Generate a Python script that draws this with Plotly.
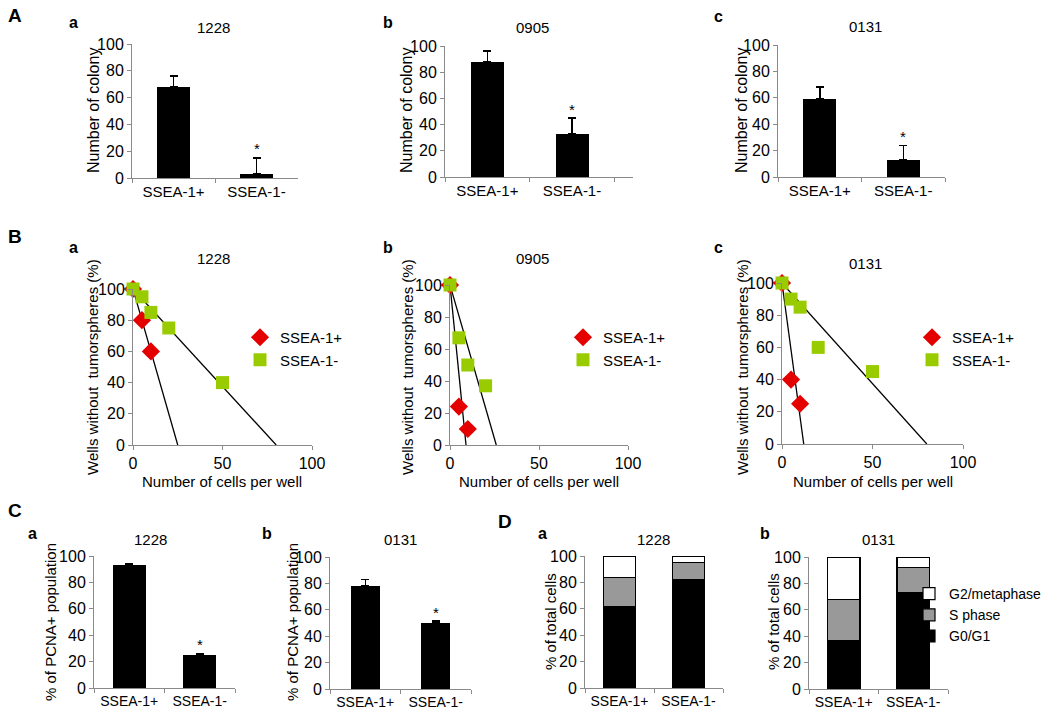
import plotly.graph_objects as go

W, H = 1050, 712
OFF = 0
FONT = "Liberation Sans, Arial, sans-serif"
AXC = "#8a8a8a"

# ---------------- data ----------------
categories = ["SSEA-1+", "SSEA-1-"]

colony_1228 = [68, 3]
colony_1228_err = [8, 12]
colony_0905 = [88, 33]
colony_0905_err = [8, 12]
colony_0131 = [59, 13]
colony_0131_err = [9, 11]

# Panel B: limiting dilution (cells per well vs % wells without tumorspheres)
b1228_pos_x = [0, 5, 10]
b1228_pos_y = [100, 80, 60]
b1228_neg_x = [0, 5, 10, 20, 50]
b1228_neg_y = [100, 95, 85, 75, 40]
b1228_pos_fit_x = [0, 25]
b1228_neg_fit_x = [0, 80]

b0905_pos_x = [0, 5, 10]
b0905_pos_y = [100, 24, 10]
b0905_neg_x = [0, 5, 10, 20]
b0905_neg_y = [100, 67, 50, 37]
b0905_pos_fit_x = [0, 9]
b0905_neg_fit_x = [0, 26]

b0131_pos_x = [0, 5, 10]
b0131_pos_y = [100, 40, 25]
b0131_neg_x = [0, 5, 10, 20, 50]
b0131_neg_y = [100, 90, 85, 60, 45]
b0131_pos_fit_x = [0, 12]
b0131_neg_fit_x = [0, 80]
fit_y = [100, 0]

# Panel C: PCNA+
pcna_1228 = [93, 25]
pcna_1228_err = [1, 1]
pcna_0131 = [78, 50]
pcna_0131_err = [5, 1.5]

# Panel D: cell cycle
d1228_g0g1 = [62, 82]
d1228_s = [22, 13]
d1228_g2 = [16, 5]
d0131_g0g1 = [37, 73]
d0131_s = [31, 19]
d0131_g2 = [32, 8]

# ---------------- layout helpers ----------------
def fx(x):
    return (x - OFF) / W

def fy(y):
    return 1 - (y - OFF) / H

def xd(a, b):
    return [fx(a), fx(b)]

def yd(top, bot):
    return [fy(bot), fy(top)]

layout = dict(
    width=W, height=H, margin=dict(l=0, r=0, t=0, b=0, autoexpand=False),
    paper_bgcolor="white", plot_bgcolor="white",
    font=dict(family=FONT, color="black", size=15),
    barmode="stack", showlegend=True,
)

def axis_common(**kw):
    d = dict(showline=True, linecolor=AXC, linewidth=1, ticks="outside",
             ticklen=4, tickcolor=AXC, showgrid=False, zeroline=False,
             tickfont=dict(size=16, color="black", family=FONT), fixedrange=True,
             tickangle=0, automargin=False)
    d.update(kw)
    return d

fig = go.Figure()
annotations = []

def ann(text, x, y, size=15, bold=False, angle=0, xanchor="center", yanchor="middle"):
    annotations.append(dict(
        text=("<b>%s</b>" % text) if bold else text, x=fx(x), y=fy(y),
        xref="paper", yref="paper", showarrow=False, textangle=angle,
        xanchor=xanchor, yanchor=yanchor,
        font=dict(size=size, family=FONT, color="black")))

panels = {
    1: ([132, 298], [44, 178]),
    2: ([445, 633], [46, 177]),
    3: ([778, 945], [45, 177]),
    4: ([133, 312], [289, 445]),
    5: ([450, 628], [285, 445]),
    6: ([782, 963], [283, 444]),
    7: ([94, 235], [556, 688]),
    8: ([330, 471], [557, 689]),
    9: ([585, 723], [556, 688]),
    10: ([809, 948], [557, 689]),
}

def ax_names(i):
    return ("xaxis" if i == 1 else "xaxis%d" % i,
            "yaxis" if i == 1 else "yaxis%d" % i,
            "x" if i == 1 else "x%d" % i,
            "y" if i == 1 else "y%d" % i)

# ---------------- bar panels (A, C) ----------------
bar_sets = [
    (1, colony_1228, colony_1228_err, 0.40, [-0.5, 1.5], 15),
    (2, colony_0905, colony_0905_err, 0.39, [-0.5, 1.72], 15),
    (3, colony_0131, colony_0131_err, 0.40, [-0.5, 1.5], 15),
    (7, pcna_1228, pcna_1228_err, 0.47, [-0.5, 1.5], 14),
    (8, pcna_0131, pcna_0131_err, 0.41, [-0.5, 1.5], 14),
]
for i, vals, errs, bw, xr, cfs in bar_sets:
    xn, yn, xr_, yr_ = ax_names(i)
    fig.add_trace(go.Bar(
        x=categories, y=vals, width=[bw, bw], xaxis=xr_, yaxis=yr_,
        marker=dict(color="black", line=dict(width=0)), showlegend=False,
        error_y=dict(type="data", array=errs, arrayminus=[0, 0], symmetric=False,
                     color="black", thickness=1.5, width=4)))
    xp, yp = panels[i]
    layout[xn] = axis_common(domain=xd(*xp), anchor=yr_, type="category",
                             range=xr, tickson="boundaries",
                             tickfont=dict(size=cfs, color="black", family=FONT))
    layout[yn] = axis_common(domain=yd(*yp), anchor=xr_, range=[0, 100],
                             tickvals=[0, 20, 40, 60, 80, 100])
    annotations.append(dict(text="*", x=categories[1], y=vals[1] + errs[1],
                            xref=xr_, yref=yr_, showarrow=False, yshift=9,
                            font=dict(size=15, family=FONT, color="black")))

# ---------------- scatter panels (B) ----------------
RED = "#e50000"
GREEN = "#99cc00"
b_sets = [
    (4, b1228_pos_x, b1228_pos_y, b1228_neg_x, b1228_neg_y, b1228_pos_fit_x, b1228_neg_fit_x, "legend", 240),
    (5, b0905_pos_x, b0905_pos_y, b0905_neg_x, b0905_neg_y, b0905_pos_fit_x, b0905_neg_fit_x, "legend2", 563),
    (6, b0131_pos_x, b0131_pos_y, b0131_neg_x, b0131_neg_y, b0131_pos_fit_x, b0131_neg_fit_x, "legend3", 912),
]
for i, px_, py_, nx_, ny_, pfx, nfx, lg, lgx in b_sets:
    xn, yn, xr_, yr_ = ax_names(i)
    fig.add_trace(go.Scatter(x=pfx, y=fit_y, mode="lines", xaxis=xr_, yaxis=yr_,
                             line=dict(color="black", width=1.3), showlegend=False,
                             cliponaxis=False))
    fig.add_trace(go.Scatter(x=nfx, y=fit_y, mode="lines", xaxis=xr_, yaxis=yr_,
                             line=dict(color="black", width=1.3), showlegend=False,
                             cliponaxis=False))
    fig.add_trace(go.Scatter(x=px_, y=py_, mode="markers", name="SSEA-1+",
                             xaxis=xr_, yaxis=yr_, legend=lg, cliponaxis=False,
                             marker=dict(symbol="diamond", size=14, color=RED)))
    fig.add_trace(go.Scatter(x=nx_, y=ny_, mode="markers", name="SSEA-1-",
                             xaxis=xr_, yaxis=yr_, legend=lg, cliponaxis=False,
                             marker=dict(symbol="square", size=13, color=GREEN)))
    xp, yp = panels[i]
    layout[xn] = axis_common(domain=xd(*xp), anchor=yr_, range=[0, 100],
                             tickvals=[0, 50, 100])
    layout[yn] = axis_common(domain=yd(*yp), anchor=xr_, range=[0, 100],
                             tickvals=[0, 20, 40, 60, 80, 100])
    layout[lg] = dict(x=fx(lgx), y=fy(321), xanchor="left", yanchor="top",
                      bgcolor="rgba(0,0,0,0)", borderwidth=0, tracegroupgap=0,
                      traceorder="normal",
                      font=dict(size=15, family=FONT, color="black"),
                      itemwidth=30)

# ---------------- stacked panels (D) ----------------
d_sets = [
    (9, d1228_g0g1, d1228_s, d1228_g2, 0.46, False),
    (10, d0131_g0g1, d0131_s, d0131_g2, 0.47, True),
]
for i, g0, s, g2, bw, show in d_sets:
    xn, yn, xr_, yr_ = ax_names(i)
    for name, vals, col in [("G0/G1", g0, "black"), ("S phase", s, "#999999"),
                            ("G2/metaphase", g2, "white")]:
        fig.add_trace(go.Bar(
            x=categories, y=vals, width=[bw, bw], name=name, xaxis=xr_, yaxis=yr_,
            marker=dict(color=col, line=dict(color="black", width=1.2)),
            showlegend=show, legend="legend4"))
    xp, yp = panels[i]
    layout[xn] = axis_common(domain=xd(*xp), anchor=yr_, type="category",
                             range=[-0.5, 1.5], tickson="boundaries",
                             tickfont=dict(size=14, color="black", family=FONT))
    layout[yn] = axis_common(domain=yd(*yp), anchor=xr_, range=[0, 100],
                             tickvals=[0, 20, 40, 60, 80, 100])

layout["legend4"] = dict(x=fx(909), y=fy(578), xanchor="left", yanchor="top",
                         traceorder="reversed", bgcolor="rgba(0,0,0,0)",
                         font=dict(size=14, family=FONT, color="black"),
                         itemwidth=30, tracegroupgap=0)

# ---------------- text ----------------
ann("A", 15, 15, size=19, bold=True)
ann("B", 15, 236, size=19, bold=True)
ann("C", 15, 511, size=19, bold=True)
ann("D", 505, 521, size=19, bold=True)
for t, x, y in [("a", 73, 22), ("b", 388, 22), ("c", 718, 16),
                ("a", 73, 248), ("b", 388, 248), ("c", 718, 248),
                ("a", 32, 533), ("b", 267, 533), ("a", 542, 533), ("b", 765, 533)]:
    ann(t, x, y, size=16, bold=True)
for t, x, y in [("1228", 213, 28), ("0905", 532, 28), ("0131", 865, 27),
                ("1228", 213, 258), ("0905", 532, 258), ("0131", 865, 263),
                ("1228", 150, 539), ("0131", 400, 539),
                ("1228", 653, 539), ("0131", 878, 539)]:
    ann(t, x, y, size=15)
for x in [93, 406, 741]:
    ann("Number of colony", x, 111, size=16, angle=-90)
for x in [92, 407, 742]:
    ann("Wells without  tumorspheres (%)", x, 367, size=15, angle=-90)
for x in [222, 539, 873]:
    ann("Number of cells per well", x, 481, size=15)
for x in [50, 292]:
    ann("% of PCNA+ population", x, 622, size=15, angle=-90)
for x in [550, 773]:
    ann("% of total cells", x, 622, size=15, angle=-90)

layout["annotations"] = annotations
fig.update_layout(**layout)
fig.write_html("out.html", config={"displayModeBar": False},
               post_script="document.body.style.margin='0';document.body.style.overflow='hidden';")
